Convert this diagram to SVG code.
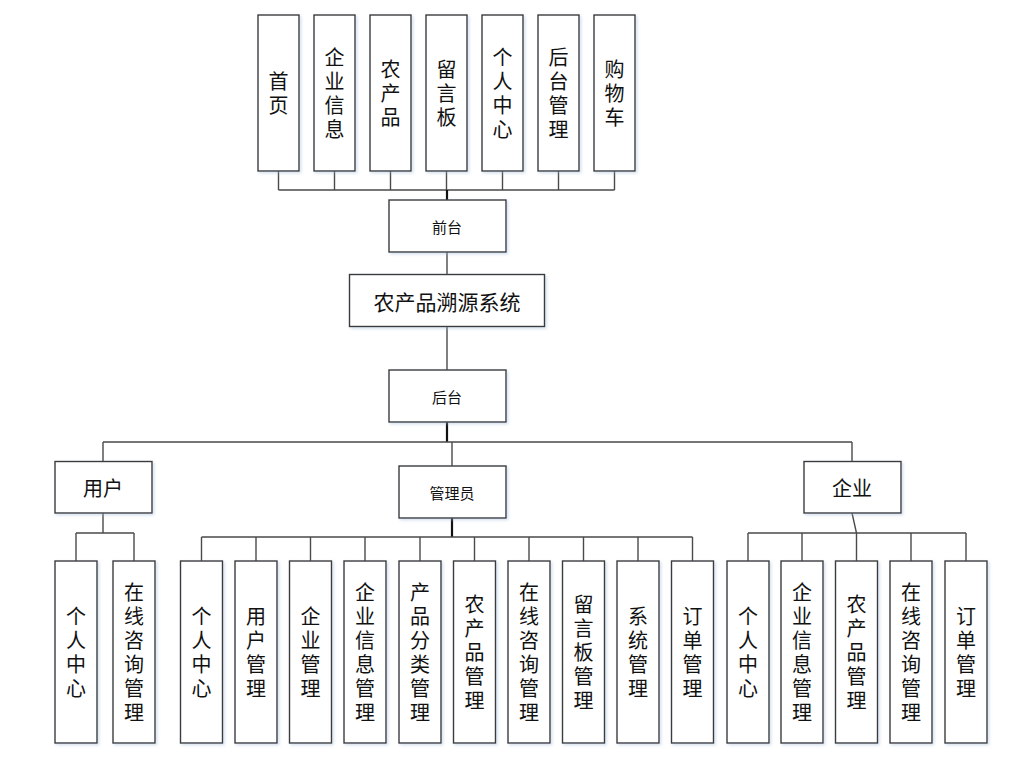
<svg xmlns="http://www.w3.org/2000/svg" width="1022" height="757" viewBox="0 0 1022 757">
<defs>
<filter id="sh" x="-20%" y="-20%" width="140%" height="140%">
<feDropShadow dx="1.5" dy="1.5" stdDeviation="1.5" flood-color="#9db8d8" flood-opacity="0.45"/>
</filter>
<style>
.b{fill:#fff;stroke:#3a3a3a;stroke-width:1.4;filter:url(#sh)}
.t{font-family:"Noto Sans CJK SC","Noto Sans",sans-serif;fill:#111;text-anchor:middle;dominant-baseline:central}
.v{font-size:20px}
.c{fill:none;stroke:#4a4a4a;stroke-width:1.4}
.k{fill:none;stroke:#111;stroke-width:2.2}
</style>
</defs>
<rect width="1022" height="757" fill="#fff"/>
<g id="connectors">
<path class="c" d="M278.5,171V190M334.5,171V190M390.5,171V190M446.5,171V190M502.5,171V190M558.5,171V190M614.5,171V190M278.5,190H614.5"/>
<path class="k" d="M447,190V200"/>
<path class="c" d="M447,252V274.5M447,326.5V370"/>
<path class="k" d="M447,422V442"/>
<path class="c" d="M103,442H852M103,442V461.5M452,442V466M852,442V461.5"/>
<path class="c" d="M103,513V533M76,533H134M76,533V561M134,533V561"/>
<path class="k" d="M452,518V537"/>
<path class="c" d="M201.5,537H692.5M201.5,537V561M256,537V561M310.5,537V561M365,537V561M420,537V561M474.5,537V561M529,537V561M583.5,537V561M638,537V561M692.5,537V561"/>
<path class="c" d="M852,513L856.5,533V561M748,533H966M748,533V561M802,533V561M911,533V561M966,533V561"/>
</g>
<g id="n-shouye"><rect class="b" x="258" y="15" width="41" height="156"/><text class="t v"><tspan x="278.5" y="80">首</tspan><tspan x="278.5" y="104">页</tspan></text></g>
<g id="n-qiyexinxi"><rect class="b" x="314" y="15" width="41" height="156"/><text class="t v"><tspan x="334.5" y="56">企</tspan><tspan x="334.5" y="80">业</tspan><tspan x="334.5" y="104">信</tspan><tspan x="334.5" y="128">息</tspan></text></g>
<g id="n-nongchanpin"><rect class="b" x="370" y="15" width="41" height="156"/><text class="t v"><tspan x="390.5" y="68">农</tspan><tspan x="390.5" y="92">产</tspan><tspan x="390.5" y="116">品</tspan></text></g>
<g id="n-liuyanban"><rect class="b" x="426" y="15" width="41" height="156"/><text class="t v"><tspan x="446.5" y="68">留</tspan><tspan x="446.5" y="92">言</tspan><tspan x="446.5" y="116">板</tspan></text></g>
<g id="n-gerenzhongxin"><rect class="b" x="482" y="15" width="41" height="156"/><text class="t v"><tspan x="502.5" y="56">个</tspan><tspan x="502.5" y="80">人</tspan><tspan x="502.5" y="104">中</tspan><tspan x="502.5" y="128">心</tspan></text></g>
<g id="n-houtaiguanli"><rect class="b" x="538" y="15" width="41" height="156"/><text class="t v"><tspan x="558.5" y="56">后</tspan><tspan x="558.5" y="80">台</tspan><tspan x="558.5" y="104">管</tspan><tspan x="558.5" y="128">理</tspan></text></g>
<g id="n-gouwuche"><rect class="b" x="594" y="15" width="41" height="156"/><text class="t v"><tspan x="614.5" y="68">购</tspan><tspan x="614.5" y="92">物</tspan><tspan x="614.5" y="116">车</tspan></text></g>
<g id="n-qiantai"><rect class="b" x="389" y="200" width="117" height="52"/><text class="t" x="447" y="226" font-size="15">前台</text></g>
<g id="n-system"><rect class="b" x="349.5" y="274.5" width="195" height="52"/><text class="t" x="447" y="300.5" font-size="21">农产品溯源系统</text></g>
<g id="n-houtai"><rect class="b" x="389" y="370" width="117" height="52"/><text class="t" x="447" y="396" font-size="15">后台</text></g>
<g id="n-user"><rect class="b" x="55" y="461.5" width="97" height="51.5"/><text class="t" x="103" y="487" font-size="20">用户</text></g>
<g id="n-admin"><rect class="b" x="399" y="466" width="107" height="52"/><text class="t" x="452" y="492" font-size="15">管理员</text></g>
<g id="n-company"><rect class="b" x="804" y="461.5" width="97" height="51.5"/><text class="t" x="852" y="487" font-size="20">企业</text></g>
<g id="u-grzx"><rect class="b" x="55" y="561" width="42" height="182"/><text class="t v"><tspan x="76" y="615">个</tspan><tspan x="76" y="639">人</tspan><tspan x="76" y="663">中</tspan><tspan x="76" y="687">心</tspan></text></g>
<g id="u-zxzx"><rect class="b" x="113" y="561" width="42" height="182"/><text class="t v"><tspan x="134" y="591">在</tspan><tspan x="134" y="615">线</tspan><tspan x="134" y="639">咨</tspan><tspan x="134" y="663">询</tspan><tspan x="134" y="687">管</tspan><tspan x="134" y="711">理</tspan></text></g>
<g id="a-grzx"><rect class="b" x="180.5" y="561" width="42" height="182"/><text class="t v"><tspan x="201.5" y="615">个</tspan><tspan x="201.5" y="639">人</tspan><tspan x="201.5" y="663">中</tspan><tspan x="201.5" y="687">心</tspan></text></g>
<g id="a-yhgl"><rect class="b" x="235" y="561" width="42" height="182"/><text class="t v"><tspan x="256" y="615">用</tspan><tspan x="256" y="639">户</tspan><tspan x="256" y="663">管</tspan><tspan x="256" y="687">理</tspan></text></g>
<g id="a-qygl"><rect class="b" x="289.5" y="561" width="42" height="182"/><text class="t v"><tspan x="310.5" y="615">企</tspan><tspan x="310.5" y="639">业</tspan><tspan x="310.5" y="663">管</tspan><tspan x="310.5" y="687">理</tspan></text></g>
<g id="a-qyxxgl"><rect class="b" x="344" y="561" width="42" height="182"/><text class="t v"><tspan x="365" y="591">企</tspan><tspan x="365" y="615">业</tspan><tspan x="365" y="639">信</tspan><tspan x="365" y="663">息</tspan><tspan x="365" y="687">管</tspan><tspan x="365" y="711">理</tspan></text></g>
<g id="a-cpflgl"><rect class="b" x="399" y="561" width="42" height="182"/><text class="t v"><tspan x="420" y="591">产</tspan><tspan x="420" y="615">品</tspan><tspan x="420" y="639">分</tspan><tspan x="420" y="663">类</tspan><tspan x="420" y="687">管</tspan><tspan x="420" y="711">理</tspan></text></g>
<g id="a-ncpgl"><rect class="b" x="453.5" y="561" width="42" height="182"/><text class="t v"><tspan x="474.5" y="603">农</tspan><tspan x="474.5" y="627">产</tspan><tspan x="474.5" y="651">品</tspan><tspan x="474.5" y="675">管</tspan><tspan x="474.5" y="699">理</tspan></text></g>
<g id="a-zxzxgl"><rect class="b" x="508" y="561" width="42" height="182"/><text class="t v"><tspan x="529" y="591">在</tspan><tspan x="529" y="615">线</tspan><tspan x="529" y="639">咨</tspan><tspan x="529" y="663">询</tspan><tspan x="529" y="687">管</tspan><tspan x="529" y="711">理</tspan></text></g>
<g id="a-lybgl"><rect class="b" x="562.5" y="561" width="42" height="182"/><text class="t v"><tspan x="583.5" y="603">留</tspan><tspan x="583.5" y="627">言</tspan><tspan x="583.5" y="651">板</tspan><tspan x="583.5" y="675">管</tspan><tspan x="583.5" y="699">理</tspan></text></g>
<g id="a-xtgl"><rect class="b" x="617" y="561" width="42" height="182"/><text class="t v"><tspan x="638" y="615">系</tspan><tspan x="638" y="639">统</tspan><tspan x="638" y="663">管</tspan><tspan x="638" y="687">理</tspan></text></g>
<g id="a-ddgl"><rect class="b" x="671.5" y="561" width="42" height="182"/><text class="t v"><tspan x="692.5" y="615">订</tspan><tspan x="692.5" y="639">单</tspan><tspan x="692.5" y="663">管</tspan><tspan x="692.5" y="687">理</tspan></text></g>
<g id="c-grzx"><rect class="b" x="727" y="561" width="42" height="182"/><text class="t v"><tspan x="748" y="615">个</tspan><tspan x="748" y="639">人</tspan><tspan x="748" y="663">中</tspan><tspan x="748" y="687">心</tspan></text></g>
<g id="c-qyxxgl"><rect class="b" x="781" y="561" width="42" height="182"/><text class="t v"><tspan x="802" y="591">企</tspan><tspan x="802" y="615">业</tspan><tspan x="802" y="639">信</tspan><tspan x="802" y="663">息</tspan><tspan x="802" y="687">管</tspan><tspan x="802" y="711">理</tspan></text></g>
<g id="c-ncpgl"><rect class="b" x="835.5" y="561" width="42" height="182"/><text class="t v"><tspan x="856.5" y="603">农</tspan><tspan x="856.5" y="627">产</tspan><tspan x="856.5" y="651">品</tspan><tspan x="856.5" y="675">管</tspan><tspan x="856.5" y="699">理</tspan></text></g>
<g id="c-zxzxgl"><rect class="b" x="890" y="561" width="42" height="182"/><text class="t v"><tspan x="911" y="591">在</tspan><tspan x="911" y="615">线</tspan><tspan x="911" y="639">咨</tspan><tspan x="911" y="663">询</tspan><tspan x="911" y="687">管</tspan><tspan x="911" y="711">理</tspan></text></g>
<g id="c-ddgl"><rect class="b" x="945" y="561" width="42" height="182"/><text class="t v"><tspan x="966" y="615">订</tspan><tspan x="966" y="639">单</tspan><tspan x="966" y="663">管</tspan><tspan x="966" y="687">理</tspan></text></g>
</svg>
